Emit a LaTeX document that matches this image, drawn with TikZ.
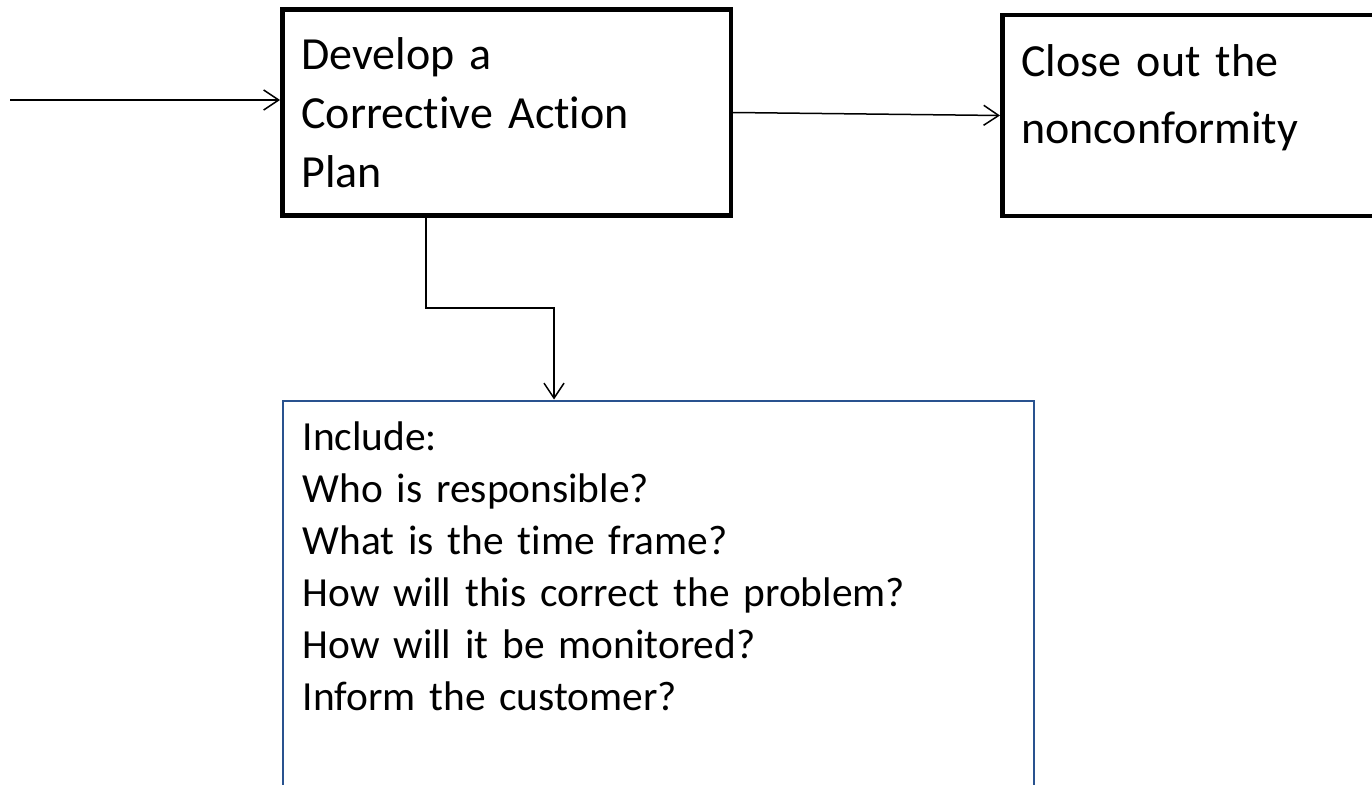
\documentclass[tikz,border=0pt]{standalone}
\usepackage{fontspec}
\setmainfont{Carlito}[Ligatures=NoCommon]
\usepackage{tikz}
\usetikzlibrary{arrows.meta,positioning,calc}
\definecolor{boxblue}{RGB}{41,82,143}

\begin{document}
\begin{tikzpicture}[x=1pt,y=-1pt,
    flow/.style={-{Straight Barb[length=15pt,width=20pt]}, line width=1.5pt},
    blackbox/.style={draw, line width=4.5pt, anchor=north west, align=left, inner ysep=0pt, inner xsep=19pt},
    bluebox/.style={draw=boxblue, line width=2.2pt, anchor=north west, align=left, inner ysep=0pt, inner xsep=19.5pt}]
                    \clip (0,0) rectangle (1372,784);
                    \node[blackbox, text width=410.5pt, text height=60.25pt, text depth=145.25pt, font={\fontsize{46}{58.5}\selectfont}] (plan) at (280,7.5) {Develop a\\Corrective Action\\Plan};
                    \node[blackbox, text width=380pt, text height=60.75pt, text depth=139.75pt, font={\fontsize{46}{67}\selectfont}] (close) at (1000,13) {Close out the\\nonconformity};
                    \node[bluebox, text width=711.8pt, text height=49.4pt, text depth=380pt, font={\fontsize{41.4}{52}\selectfont}] (include) at (282,399.5) {Include:\\Who is responsible?\\What is the time frame?\\How will this correct the problem?\\How will it be monitored?\\Inform the customer?};
                    \coordinate (start) at (10,100);
                    \draw[flow] (start) -- (start -| plan.west);
                    \draw[flow] (plan.east) -- (close.west);
                    \draw[flow] ([xshift=146pt]plan.south west) -- ++(0,90.5) -| ([xshift=272pt]include.north west);
                \end{tikzpicture}
\end{document}
